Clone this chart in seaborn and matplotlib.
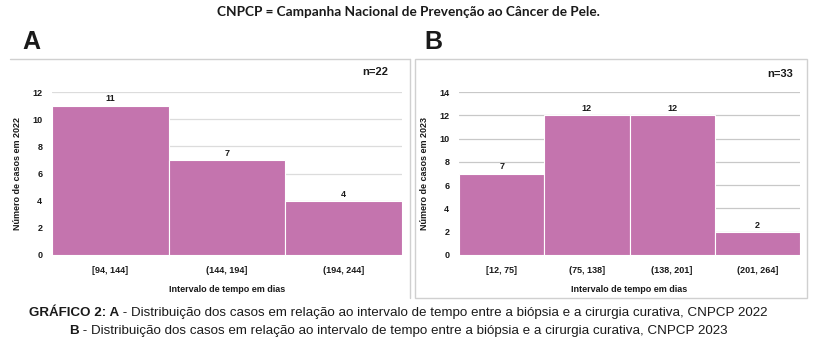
import matplotlib
matplotlib.use("Agg")
import matplotlib.pyplot as plt
from matplotlib.patches import Rectangle
from matplotlib.lines import Line2D
import seaborn as sns
import pandas as pd

# Data
intervals_2022 = ["[94, 144]", "(144, 194]", "(194, 244]"]
cases_2022 = [11, 7, 4]
intervals_2023 = ["[12, 75]", "(75, 138]", "(138, 201]", "(201, 264]"]
cases_2023 = [7, 12, 12, 2]
n_2022 = "n=22"
n_2023 = "n=33"
ylim_2022 = 12
ylim_2023 = 14

BAR = "#C474AE"
GRID = "#D9D9D9"
TXT = "#1a1a1a"

sns.set_theme(style="white")
plt.rcParams["font.family"] = ["Liberation Sans", "DejaVu Sans"]

fig = plt.figure(figsize=(8.15, 3.48), dpi=100)
W, H = 815, 348


def fx(px):
    return px / W


def fy(py):
    return 1 - py / H


def panel(rect, cats, vals, ymax, ylabel, grid_col):
    ax = fig.add_axes(rect)
    df = pd.DataFrame({"intervalo": cats, "casos": vals})
    sns.barplot(data=df, x="intervalo", y="casos", color=BAR, width=1.0,
                saturation=1, edgecolor="white", linewidth=0.8, ax=ax, zorder=2)
    ax.set_ylim(0, ymax)
    ax.set_xlim(-0.5, len(cats) - 0.5)
    ax.set_yticks(range(0, ymax + 1, 2))
    ax.yaxis.grid(True, color=grid_col, linewidth=0.9, zorder=0)
    ax.set_axisbelow(True)
    for s in ax.spines.values():
        s.set_visible(False)
    ax.tick_params(axis="both", length=0, labelsize=6.5, colors=TXT, pad=7)
    for lab in ax.get_xticklabels() + ax.get_yticklabels():
        lab.set_fontweight("bold")
    ax.tick_params(axis="x", pad=8)
    ax.set_xlabel("Intervalo de tempo em dias", fontsize=6.5, fontweight="bold",
                  color=TXT, labelpad=7)
    ax.set_ylabel(ylabel, fontsize=6.5, fontweight="bold", color=TXT, labelpad=7)
    for c in ax.containers:
        ax.bar_label(c, labels=[str(v) for v in vals], fontsize=6.5,
                     fontweight="bold", color=TXT, padding=1.5)
    return ax


axA = panel([fx(52), fy(255), fx(402) - fx(52), fy(92) - fy(255)],
            intervals_2022, cases_2022, ylim_2022, "Número de casos em 2022",
            "#DCDCDC")
axB = panel([fx(459), fy(255), fx(800) - fx(459), fy(92) - fy(255)],
            intervals_2023, cases_2023, ylim_2023, "Número de casos em 2023",
            "#C8C8C8")

# n labels
fig.text(fx(375), fy(72), n_2022, fontsize=8, fontweight="bold", color=TXT,
         ha="center", va="center")
fig.text(fx(780), fy(74), n_2023, fontsize=8, fontweight="bold", color=TXT,
         ha="center", va="center")

# Panel frames
frame_col = "#D0D0D0"
fig.add_artist(Line2D([fx(10), fx(410)], [fy(59), fy(59)], color=frame_col, lw=1))
fig.add_artist(Line2D([fx(410), fx(410)], [fy(59), fy(298)], color=frame_col, lw=1))
fig.add_artist(Rectangle((fx(415), fy(298)), fx(807) - fx(415), fy(59) - fy(298),
                         fill=False, edgecolor=frame_col, lw=1))

# Panel letters
fig.text(fx(22), fy(42), "A", fontsize=18, fontweight="bold", color=TXT,
         ha="left", va="center")
fig.text(fx(424), fy(42), "B", fontsize=18, fontweight="bold", color=TXT,
         ha="left", va="center")

# Title
fig.text(fx(408), fy(12), "CNPCP = Campanha Nacional de Prevenção ao Câncer de Pele.",
         fontsize=9.8, fontweight="bold", color=TXT, ha="center", va="center",
         family=["Lato", "DejaVu Sans"])

# Caption (bold lead-in followed by regular text, centred as one line)
cap_font = ["Liberation Sans Narrow", "Liberation Sans", "DejaVu Sans"]
fig.canvas.draw()
r = fig.canvas.get_renderer()


def caption_line(parts, ypx, cx_px, size):
    texts = []
    for s, w in parts:
        t = fig.text(0, fy(ypx), s, fontsize=size, fontweight=w, color=TXT,
                     ha="left", va="center", family=cap_font)
        texts.append(t)
    widths = [t.get_window_extent(r).width for t in texts]
    x0 = fx(cx_px) - sum(widths) / 2 / W
    for t, wd in zip(texts, widths):
        t.set_x(x0)
        x0 += wd / W


caption_line([("GRÁFICO 2: A", "bold"),
              (" - Distribuição dos casos em relação ao intervalo de tempo entre a biópsia e a cirurgia curativa, CNPCP 2022", "normal")],
             313, 398, 9.6)
caption_line([("B", "bold"),
              (" - Distribuição dos casos em relação ao intervalo de tempo entre a biópsia e a cirurgia curativa, CNPCP 2023", "normal")],
             331, 398, 9.6)

fig.savefig("out.png", dpi=100, facecolor="white")
